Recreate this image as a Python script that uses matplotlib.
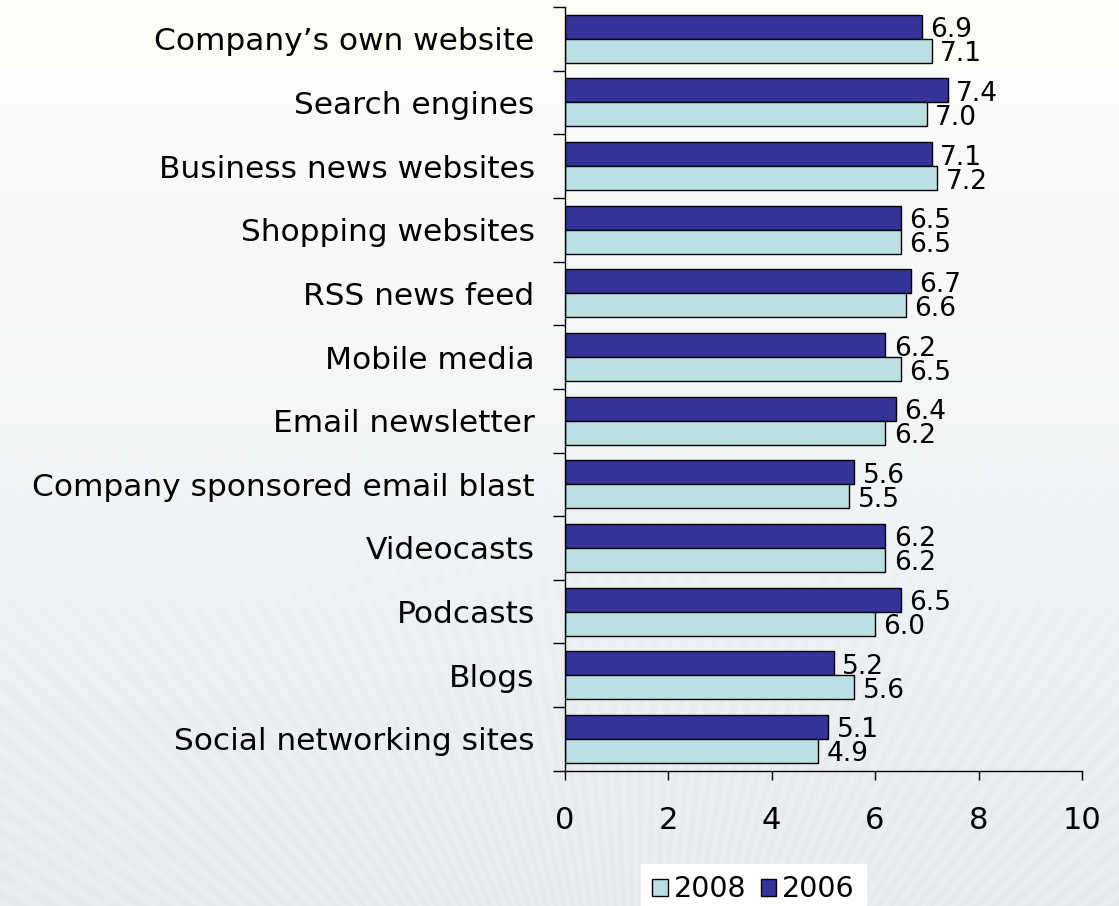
import numpy as np
import matplotlib
matplotlib.use("Agg")
import matplotlib.pyplot as plt
from matplotlib.patches import Patch

categories = [
    "Company\u2019s own website",
    "Search engines",
    "Business news websites",
    "Shopping websites",
    "RSS news feed",
    "Mobile media",
    "Email newsletter",
    "Company sponsored email blast",
    "Videocasts",
    "Podcasts",
    "Blogs",
    "Social networking sites",
]
values_2006 = [6.9, 7.4, 7.1, 6.5, 6.7, 6.2, 6.4, 5.6, 6.2, 6.5, 5.2, 5.1]
values_2008 = [7.1, 7.0, 7.2, 6.5, 6.6, 6.5, 6.2, 5.5, 6.2, 6.0, 5.6, 4.9]
x_ticks = [0, 2, 4, 6, 8, 10]

color_2006 = "#333399"
color_2008 = "#BBE0E3"

plt.rcParams["font.family"] = ["DejaVu Sans"]

W, H = 1119, 906
fig = plt.figure(figsize=(W / 100, H / 100), dpi=100)

# page background: cream header band, then white fading to pale blue-grey,
# with a faint fan of streaks in the lower half
bg = fig.add_axes([0, 0, 1, 1], zorder=-10)
yy, xx = np.mgrid[0:H, 0:W].astype(float)
cream = np.array([253, 253, 243]) / 255
white = np.array([251, 252, 252]) / 255
grey = np.array([234, 238, 241]) / 255
w = np.clip((yy - 68) / (H - 68), 0, 1) ** 0.9
img = (1 - w)[..., None] * white + w[..., None] * grey
theta = np.arctan2(yy - 1250.0, xx - 640.0)
fan = 0.5 + 0.5 * np.cos(theta * 260)
fade = np.clip((yy - 430) / 300, 0, 1)
img = img - (fan * fade * 0.018)[..., None]
img[yy < 68] = cream
img = np.clip(img, 0, 1)
bg.imshow(img, aspect="auto", extent=[0, W, H, 0], interpolation="bilinear")
bg.set_xlim(0, W)
bg.set_ylim(H, 0)
bg.set_axis_off()

ax = fig.add_axes([0.5045, 0.1493, 0.4625, 0.8430])
ax.set_facecolor("none")

n = len(categories)
pos = np.arange(n)
bh = 0.377

bars06 = ax.barh(pos - bh / 2, values_2006, height=bh, color=color_2006,
                 edgecolor="black", linewidth=1.0, label="2006")
bars08 = ax.barh(pos + bh / 2, values_2008, height=bh, color=color_2008,
                 edgecolor="black", linewidth=1.0, label="2008")

for bars, vals in ((bars06, values_2006), (bars08, values_2008)):
    for b, v in zip(bars, vals):
        ax.annotate(f"{v:.1f}", xy=(v, b.get_y() + b.get_height() / 2),
                    xytext=(6, -2.5), textcoords="offset points",
                    ha="left", va="center", fontsize=19, color="black")

ax.set_xlim(0, 10)
ax.set_ylim(n - 0.5, -0.5)
ax.set_xticks(x_ticks)
ax.set_xticklabels([str(v) for v in x_ticks], fontsize=22)
ax.tick_params(axis="x", direction="out", length=6.5, width=1, pad=19)

ax.set_yticks(pos)
ax.set_yticklabels(categories, fontsize=22.5)
ax.set_yticks(np.arange(n + 1) - 0.5, minor=True)
ax.tick_params(axis="y", which="major", length=0, pad=21.5)
ax.tick_params(axis="y", which="minor", direction="out", length=8.6, width=1)

for s in ("top", "right"):
    ax.spines[s].set_visible(False)
for s in ("left", "bottom"):
    ax.spines[s].set_linewidth(1.0)

handles = [Patch(facecolor=color_2008, edgecolor="black", label="2008"),
           Patch(facecolor=color_2006, edgecolor="black", label="2006")]
leg = fig.legend(handles=handles, loc="upper left",
                 bbox_to_anchor=(641 / W, 1 - 864 / H),
                 ncol=2, frameon=True, fancybox=False, fontsize=20.5,
                 handlelength=0.55, handleheight=0.55, handletextpad=0.2,
                 columnspacing=0.5, borderpad=0.4, borderaxespad=0)
leg.get_frame().set_facecolor("white")
leg.get_frame().set_edgecolor("white")
leg.get_frame().set_alpha(1)

fig.savefig("out.png", dpi=100)
